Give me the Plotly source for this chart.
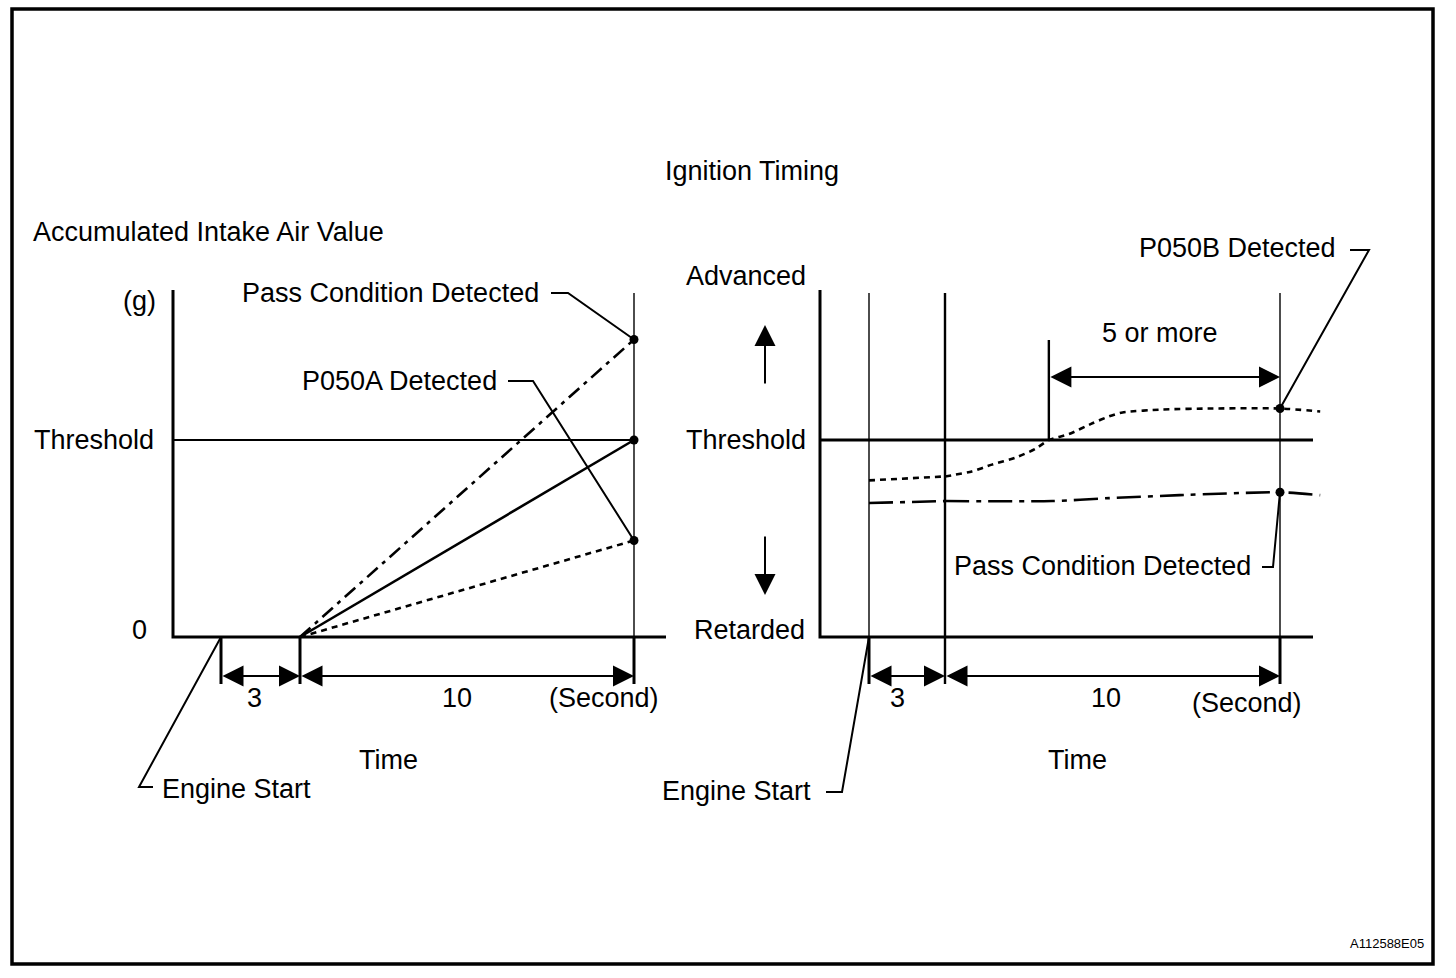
import plotly.graph_objects as go

# ===================== data =====================
time_marks = [0, 3, 13]              # s: engine start / monitoring start / judgement point
interval_labels = ["3", "10"]
time_unit = "(Second)"

# Left chart: accumulated intake air value (g, schematic)
air_threshold = 100
air_names = ["Pass Condition Detected", "Normal", "P050A Detected"]
air_at_start = [0, 0, 0]
air_at_judgement = [151, 100, 49]

# Right chart: ignition timing (schematic units, threshold = 0)
ign_threshold = 0
ign_floor = -20                      # "Retarded" baseline
p050b_t_early = [0, 3]
p050b_v_early = [-4.1, -3.7]
p050b_t = [3, 3.8, 4.4, 5.1, 5.7, 6.1, 6.7, 7.4, 7.9, 8.3, 9.5, 11.0, 13.0, 14.2]
p050b_v = [-3.7, -3.2, -2.5, -1.8, -0.9, 0.0, 0.6, 1.7, 2.4, 2.8, 3.1, 3.2, 3.2, 2.9]
pass_t_early = [0, 3]
pass_v_early = [-6.4, -6.2]
pass_t = [3, 6.2, 7.9, 10.0, 13.0, 14.2]
pass_v = [-6.2, -6.2, -5.9, -5.6, -5.3, -5.6]
five_or_more_from = 6.1
p050b_at_judgement = 3.2
pass_at_judgement = -5.3

# ===================== geometry / styles =====================
W, H = 1456, 978
FONT = dict(family="Liberation Sans, Arial, sans-serif", size=27, color="black")
BLACK = "black"


def scale(p0, v0, p1, v1):
    k = (v1 - v0) / (p1 - p0)
    return (lambda p: v0 + (p - p0) * k), (lambda v: p0 + (v - v0) / k)


# pixel anchors of the schematic (broken time scale: 0-3 s and 3-13 s drawn separately)
xL_v, xL_p = scale(300, time_marks[1], 634, time_marks[2])
xLs_v, xLs_p = scale(221, time_marks[0], 300, time_marks[1])
yL_v, yL_p = scale(637, 0, 440, air_threshold)
xR_v, xR_p = scale(945, time_marks[1], 1280, time_marks[2])
xRs_v, xRs_p = scale(869, time_marks[0], 945, time_marks[1])
yR_v, yR_p = scale(637, ign_floor, 440, ign_threshold)

fig = go.Figure()


def seg(xs, ys, xa, ya, width, dash="solid", shape="linear"):
    fig.add_trace(go.Scatter(x=xs, y=ys, mode="lines", xaxis=xa, yaxis=ya,
                             line=dict(color=BLACK, width=width, dash=dash, shape=shape, smoothing=0.6),
                             hoverinfo="skip", showlegend=False))


def dots(xs, ys, xa, ya, size=9):
    fig.add_trace(go.Scatter(x=xs, y=ys, mode="markers", xaxis=xa, yaxis=ya,
                             marker=dict(color=BLACK, size=size), cliponaxis=False,
                             hoverinfo="skip", showlegend=False))


def PX(x):
    return x / W


def PY(y):
    return 1 - y / H


shapes = []
annotations = []

HEAD = 2.1
ARROW = dict(arrowhead=2, arrowsize=HEAD, arrowwidth=2, arrowcolor=BLACK, standoff=0)


def pline(pts, width=2):
    path = "M " + " L ".join(f"{PX(x)},{PY(y)}" for x, y in pts)
    shapes.append(dict(type="path", path=path, xref="paper", yref="paper",
                       line=dict(color=BLACK, width=width)))


def label(text, x, y, anchor="center", size=None):
    f = dict(FONT)
    if size:
        f["size"] = size
    annotations.append(dict(text=text, x=PX(x), y=PY(y), xref="paper", yref="paper",
                            xanchor=anchor, yanchor="middle", showarrow=False, font=f))


def dbl_arrow(x0, x1, y, xref, yref):
    annotations.append(dict(text="", x=x1, y=y, ax=x0, ay=y, xref=xref, yref=yref,
                            axref=xref, ayref=yref, showarrow=True, arrowside="end+start",
                            startarrowhead=2, startarrowsize=HEAD, startstandoff=0,
                            font=dict(size=1), **ARROW))


def px_arrow(x, y, dy):
    annotations.append(dict(text="", x=PX(x), y=PY(y), xref="paper", yref="paper",
                            ax=0, ay=dy, showarrow=True, font=dict(size=1), **ARROW))


# ---------------- left chart ----------------
t0, t1, t2 = time_marks
air_dashes = ["14px,6px,4px,6px", "solid", "6px,5px"]
seg([xL_v(173), t2], [air_threshold, air_threshold], "x", "y", 1.8)
seg([t2, t2], [yL_v(293), 0], "x", "y", 1.4)
seg([t2, t2], [0, yL_v(684)], "x", "y", 3)
seg([t1, t1], [0, yL_v(684)], "x", "y", 3)
seg([t0, t0], [0, yL_v(684)], "x2", "y", 3)
for s, e, d in zip(air_at_start, air_at_judgement, air_dashes):
    seg([t1, t2], [s, e], "x", "y", 2.6, d)
dots([t2] * 3, air_at_judgement, "x", "y")
dbl_arrow(t0, t1, yL_v(676), "x2", "y")
dbl_arrow(t1, t2, yL_v(676), "x", "y")

# axis lines
pline([(173, 290), (173, 637), (666, 637)], 3)

label("Accumulated Intake Air Value", 31, 232, "left")
label("(g)", 139, 301)
label("Threshold", 94, 440)
label("0", 139, 630)
label(air_names[0], 390, 293)
label(air_names[2], 399, 381)
label(interval_labels[0], 254, 698)
label(interval_labels[1], 457, 698)
label(time_unit, 604, 698)
label("Time", 388, 760)
label("Engine Start", 236, 789)
pline([(551, 293), (568, 293), (xL_p(t2), yL_p(air_at_judgement[0]))])
pline([(508, 381), (533, 381), (xL_p(t2), yL_p(air_at_judgement[2]))])
pline([(153, 787), (139, 787), (xLs_p(t0), yL_p(0))])

# ---------------- right chart ----------------
seg([xR_v(820), xR_v(1313)], [ign_threshold, ign_threshold], "x3", "y2", 3)
seg([t0, t0], [yR_v(293), ign_floor], "x4", "y2", 1.4)
seg([t0, t0], [ign_floor, yR_v(684)], "x4", "y2", 3)
seg([t1, t1], [yR_v(293), yR_v(684)], "x3", "y2", 2.4)
seg([t2, t2], [yR_v(293), ign_floor], "x3", "y2", 1.4)
seg([t2, t2], [ign_floor, yR_v(684)], "x3", "y2", 3)
seg([five_or_more_from, five_or_more_from], [ign_threshold, yR_v(340)], "x3", "y2", 2.4)

seg(p050b_t_early, p050b_v_early, "x4", "y2", 2.6, "6px,5px")
seg(p050b_t, p050b_v, "x3", "y2", 2.6, "6px,5px", "spline")
seg(pass_t_early, pass_v_early, "x4", "y2", 2.6, "24px,7px,5px,7px")
seg(pass_t, pass_v, "x3", "y2", 2.6, "24px,7px,5px,7px", "spline")
dots([t2, t2], [p050b_at_judgement, pass_at_judgement], "x3", "y2")

dbl_arrow(t0, t1, yR_v(676), "x4", "y2")
dbl_arrow(t1, t2, yR_v(676), "x3", "y2")
dbl_arrow(five_or_more_from, t2, yR_v(377), "x3", "y2")

pline([(820, 290), (820, 637), (1313, 637)], 3)
px_arrow(765, 325, 60)
px_arrow(765, 595, -60)

label("Ignition Timing", 752, 171)
label("Advanced", 746, 276)
label("Threshold", 746, 440)
label("Retarded", 750, 630)
label("P050B Detected", 1237, 248)
label("5 or more", 1160, 333)
label("Pass Condition Detected", 1102, 566)
label(interval_labels[0], 897, 698)
label(interval_labels[1], 1106, 698)
label(time_unit, 1247, 703)
label("Time", 1077, 760)
label("Engine Start", 736, 791)
pline([(1350, 250), (1369, 250), (xR_p(t2), yR_p(p050b_at_judgement))])
pline([(1262, 567), (1273, 567), (xR_p(t2), yR_p(pass_at_judgement))])
pline([(826, 792), (842, 792), (xRs_p(t0), yR_p(ign_floor))])

# frame and figure id
shapes.append(dict(type="rect", xref="paper", yref="paper", x0=PX(12), y0=PY(9), x1=PX(1433), y1=PY(964),
                   line=dict(color=BLACK, width=3.5)))
label("A112588E05", 1387, 943, size=13)


def xax(v):
    return dict(range=[v(0), v(W)], visible=False, domain=[0, 1], fixedrange=True)


def yax(v):
    return dict(range=[v(H), v(0)], visible=False, domain=[0, 1], fixedrange=True)


fig.update_layout(
    width=W, height=H, autosize=False,
    margin=dict(l=0, r=0, t=0, b=0, pad=0),
    paper_bgcolor="white", plot_bgcolor="rgba(0,0,0,0)",
    showlegend=False,
    xaxis=dict(xax(xL_v), anchor="y"),
    xaxis2=dict(xax(xLs_v), anchor="y", overlaying="x"),
    xaxis3=dict(xax(xR_v), anchor="y2", overlaying="x"),
    xaxis4=dict(xax(xRs_v), anchor="y2", overlaying="x"),
    yaxis=dict(yax(yL_v), anchor="x"),
    yaxis2=dict(yax(yR_v), anchor="x3", overlaying="y"),
    shapes=shapes,
    annotations=annotations,
)

fig.write_html("out.html", config={"displayModeBar": False},
               post_script="document.body.style.margin='0';")
